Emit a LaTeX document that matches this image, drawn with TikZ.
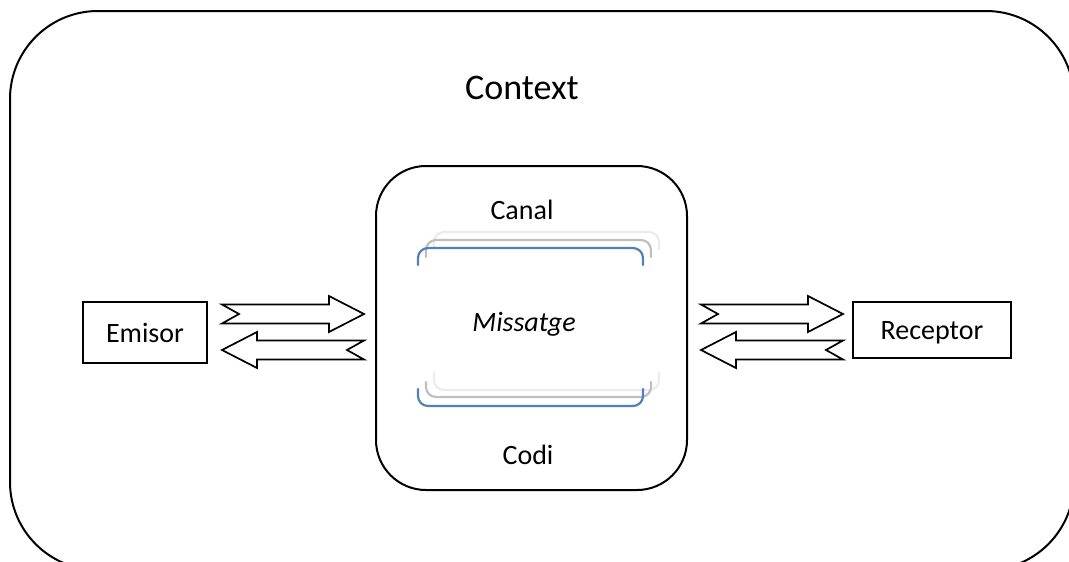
\documentclass[tikz,border=0pt]{standalone}
\usepackage{fontspec}
\setmainfont{Carlito}
\definecolor{bracketblue}{HTML}{4F81BD}
\definecolor{bracketgray}{HTML}{BFBFBF}
\definecolor{bracketlight}{HTML}{EBEBEB}
\tikzset{
  label28/.style={font=\fontsize{28}{32}\selectfont, inner sep=0pt},
  plainbox/.style={draw, line width=1.5pt, inner sep=0pt},
  bracket/.style={line width=2.2pt, rounded corners=10pt, line cap=round},
  pics/notcharrow/.style={
    code={
      \draw[line width=1.7pt, line join=miter, fill=white]
        (0,-9.5) -- (107,-9.5) -- (107,-18) -- (142,0) -- (107,18)
        -- (107,9.5) -- (0,9.5) -- (17,0) -- cycle;
    }
  }
}
\begin{document}
\begin{tikzpicture}[x=1pt, y=-1pt]
  \useasboundingbox (0,0) rectangle (1069,562);
  \clip (0,0) rectangle (1069,562);

  % surrounding context
  \draw[line width=2pt, rounded corners=88pt] (10,11) rectangle (1074,570);
  \node[font=\fontsize{36}{40}\selectfont, inner sep=0pt] (context) at (522,88) {Context};

  % central channel / message box
  \node[draw, line width=2pt, rounded corners=50pt, minimum width=311pt,
        minimum height=324pt, inner sep=0pt] (canalbox) at (531.5,328) {};
  \node[label28] (canal) at (522,210) {Canal};
  \node[label28, font=\fontsize{28}{32}\selectfont\itshape] (missatge) at (524,324) {Missatge};
  \node[label28] (codi) at (528,455) {Codi};

  % upper brackets
  \draw[bracket, bracketlight] (434,249) -- (434,232) -- (659,232) -- (659,249);
  \draw[bracket, bracketgray]  (426,257) -- (426,240) -- (651,240) -- (651,257);
  \draw[bracket, bracketblue]  (418,265) -- (418,248) -- (643,248) -- (643,265);
  % lower brackets
  \draw[bracket, bracketlight] (434,373) -- (434,390) -- (659,390) -- (659,373);
  \draw[bracket, bracketgray]  (426,382) -- (426,397) -- (651,397) -- (651,382);
  \draw[bracket, bracketblue]  (418,389) -- (418,406) -- (643,406) -- (643,389);

  % sender and receiver
  \node[plainbox, minimum width=124pt, minimum height=61pt] (emisor) at (145,332.5) {};
  \node[label28] at (emisor.center) {Emisor};
  \node[plainbox, minimum width=158pt, minimum height=56pt] (receptor) at (932,330) {};
  \node[label28] at ([yshift=-3pt]receptor.center) {Receptor};

  % two-way block arrows
  \pic at (222,314) {notcharrow};
  \pic[xscale=-1] at (364,350) {notcharrow};
  \pic at (701,314) {notcharrow};
  \pic[xscale=-1] at (843,350) {notcharrow};
\end{tikzpicture}
\end{document}
